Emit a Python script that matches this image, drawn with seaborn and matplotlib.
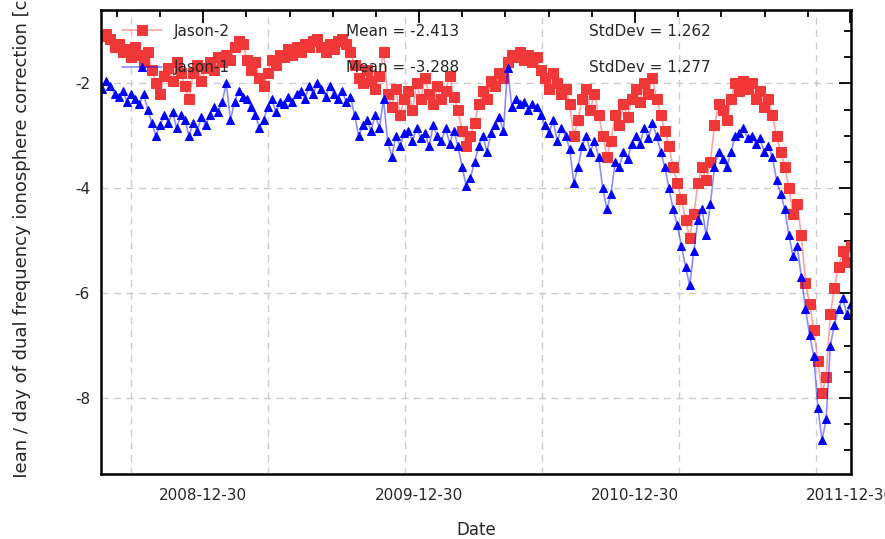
import numpy as np
import pandas as pd
import matplotlib
matplotlib.use('Agg')
import matplotlib.pyplot as plt
import matplotlib.dates as mdates
from matplotlib.ticker import MultipleLocator, FixedLocator
from matplotlib.transforms import Bbox, TransformedBbox
import seaborn as sns

# weekly samples, starting 2008-07-12
start = pd.Timestamp('2008-07-12')

jason2 = [-1.1, -1.05, -1.15, -1.3, -1.25, -1.4, -1.35, -1.5, -1.3, -1.45,
          -1.6, -1.4, -1.75, -2.0, -2.2, -1.85, -1.7, -1.95, -1.6, -1.8,
          -2.05, -2.3, -1.8, -1.65, -1.95, -1.7, -1.6, -1.75, -1.5, -1.6,
          -1.45, -1.55, -1.3, -1.2, -1.25, -1.55, -1.75, -1.6, -1.9, -2.05,
          -1.8, -1.55, -1.65, -1.45, -1.5, -1.35, -1.45, -1.3, -1.4, -1.25,
          -1.3, -1.2, -1.15, -1.3, -1.4, -1.25, -1.35, -1.2, -1.15, -1.25,
          -1.4, -1.65, -1.9, -2.0, -1.75, -1.95, -2.1, -1.85, -1.4, -2.2,
          -2.45, -2.1, -2.6, -2.3, -2.15, -2.5, -2.0, -2.3, -1.9, -2.2,
          -2.4, -2.05, -2.3, -2.15, -1.85, -2.25, -2.5, -2.9, -3.2, -3.0,
          -2.75, -2.4, -2.15, -2.3, -1.95, -2.05, -1.8, -1.9, -1.6, -1.45,
          -1.5, -1.4, -1.55, -1.45, -1.6, -1.5, -1.75, -1.9, -2.1, -1.8,
          -2.0, -2.2, -2.1, -2.4, -3.0, -2.7, -2.3, -2.1, -2.5, -2.2,
          -2.6, -3.0, -3.4, -3.1, -2.6, -2.8, -2.4, -2.65, -2.3, -2.1,
          -2.35, -2.0, -2.2, -1.9, -2.3, -2.6, -2.9, -3.2, -3.6, -3.9,
          -4.2, -4.6, -4.95, -4.5, -3.9, -3.6, -3.85, -3.5, -2.8, -2.4,
          -2.5, -2.7, -2.3, -2.0, -2.15, -1.95, -2.1, -2.0, -2.3, -2.15,
          -2.45, -2.3, -2.6, -3.0, -3.3, -3.6, -4.0, -4.5, -4.3, -4.9,
          -5.8, -6.2, -6.7, -7.3, -7.9, -7.6, -6.4, -5.9, -5.5, -5.2,
          -5.4, -5.1]

jason1 = [-2.1, -1.95, -2.05, -2.2, -2.25, -2.15, -2.35, -2.2, -2.3, -2.4,
          -2.2, -2.5, -2.75, -3.0, -2.8, -2.6, -2.75, -2.55, -2.85, -2.6,
          -2.7, -3.0, -2.75, -2.9, -2.65, -2.8, -2.6, -2.45, -2.55, -2.35,
          -2.0, -2.7, -2.35, -2.15, -2.25, -2.3, -2.45, -2.6, -2.85, -2.7,
          -2.45, -2.3, -2.55, -2.35, -2.4, -2.25, -2.35, -2.2, -2.15, -2.3,
          -2.05, -2.2, -2.0, -2.1, -2.25, -2.05, -2.2, -2.3, -2.15, -2.35,
          -2.25, -2.6, -3.0, -2.8, -2.7, -2.9, -2.6, -2.85, -2.3, -3.1,
          -3.4, -3.0, -3.2, -2.95, -2.9, -3.1, -2.85, -3.05, -2.95, -3.2,
          -2.8, -3.0, -3.1, -2.85, -3.15, -2.9, -3.2, -3.6, -3.95, -3.8,
          -3.5, -3.2, -3.0, -3.3, -2.95, -2.8, -2.65, -2.9, -1.7, -2.45,
          -2.3, -2.4, -2.35, -2.5, -2.4, -2.45, -2.6, -2.8, -2.95, -2.7,
          -3.1, -2.85, -3.0, -3.25, -3.9, -3.6, -3.2, -3.0, -3.3, -3.1,
          -3.4, -4.0, -4.4, -4.1, -3.5, -3.6, -3.3, -3.45, -3.15, -3.0,
          -3.15, -2.85, -3.05, -2.75, -3.0, -3.3, -3.6, -4.0, -4.4, -4.7,
          -5.1, -5.5, -5.85, -5.2, -4.6, -4.4, -4.9, -4.3, -3.6, -3.3,
          -3.45, -3.6, -3.3, -3.0, -2.95, -2.85, -3.05, -3.0, -3.15, -3.05,
          -3.3, -3.2, -3.4, -3.85, -4.1, -4.4, -4.9, -5.3, -5.1, -5.7,
          -6.3, -6.8, -7.2, -8.2, -8.8, -8.4, -7.0, -6.6, -6.3, -6.1,
          -6.4, -6.2]

dates2 = start + pd.to_timedelta(np.arange(len(jason2)) * 7, unit='D')
dates1 = start + pd.to_timedelta(np.arange(len(jason1)) * 7, unit='D')

mean_texts = ['Mean = -2.413', 'Mean = -3.288']
std_texts = ['StdDev = 1.262', 'StdDev = 1.277']
grid_dates = pd.to_datetime(['2008-08-29', '2009-04-18', '2009-12-06',
                             '2010-07-26', '2011-03-15', '2011-11-02'])

sns.set_style('white')
plt.rcParams['font.family'] = ['DejaVu Sans']
plt.rcParams['axes.unicode_minus'] = False

fig = plt.figure(figsize=(8.85, 5.39), dpi=100)
ax = fig.add_axes([101 / 885, 65 / 539, 750 / 885, 464 / 539])

red = '#f03838'
blue = '#0000ff'
sns.lineplot(x=dates2, y=jason2, ax=ax, color=(0.94, 0.22, 0.22, 0.45), lw=1.2,
             marker='s', markersize=6.5, mfc=red, mec=red, label='Jason-2')
sns.lineplot(x=dates1, y=jason1, ax=ax, color=(0.0, 0.0, 1.0, 0.45), lw=1.2,
             marker='^', markersize=5.8, mfc=blue, mec=blue, label='Jason-1')

ax.set_xlim(pd.Timestamp('2008-07-10'), pd.Timestamp('2011-12-31'))
ax.set_ylim(-9.45, -0.6)

# ticks
major = pd.to_datetime(['2008-12-30', '2009-12-30', '2010-12-30', '2011-12-30'])
minor = [mdates.date2num(major[0]) + k * 365.25 / 5 for k in range(-3, 16)]
ax.xaxis.set_major_locator(FixedLocator(mdates.date2num(major)))
ax.xaxis.set_minor_locator(FixedLocator(minor))
ax.xaxis.set_major_formatter(mdates.DateFormatter('%Y-%m-%d'))
ax.yaxis.set_major_locator(MultipleLocator(2))
ax.yaxis.set_minor_locator(MultipleLocator(0.5))
ax.tick_params(which='both', direction='in', top=True, right=True, width=1.3,
               color='black', labelsize=11)
ax.tick_params(which='major', length=9)
ax.tick_params(which='minor', length=5)
ax.tick_params(axis='x', pad=10)
ax.tick_params(axis='y', pad=8)

for s in ax.spines.values():
    s.set_linewidth(1.8)
    s.set_color('black')

ax.yaxis.grid(True, which='major', ls=(0, (5, 4)), color='#cccccc', lw=1)
for d in grid_dates:
    ax.axvline(d, ls=(0, (5, 4)), color='#cccccc', lw=1, zorder=0)

ax.set_xlabel('Date', fontsize=12, labelpad=13)
ax.set_ylabel('')
# the original label is longer than the plot and is clipped at both ends
ylab = fig.text(22 / 885, 1 - 232 / 539,
                'Mean / day of dual frequency ionosphere correction [cm]',
                rotation=90, ha='center', va='center', fontsize=13)
ylab.set_clip_box(TransformedBbox(Bbox.from_extents(0, 62 / 539, 0.08, 1.0),
                                  fig.transFigure))
ylab.set_clip_on(True)

leg = ax.legend(loc='upper left', bbox_to_anchor=(0.01, 1.0), frameon=False,
                fontsize=11, labelspacing=1.4, handlelength=2.6, numpoints=1)

for i in range(2):
    yy = 1 - (32 + 36 * i) / 539
    fig.text(346 / 885, yy, mean_texts[i], fontsize=11, va='center')
    fig.text(589 / 885, yy, std_texts[i], fontsize=11, va='center')

fig.savefig('out.png', dpi=100)
